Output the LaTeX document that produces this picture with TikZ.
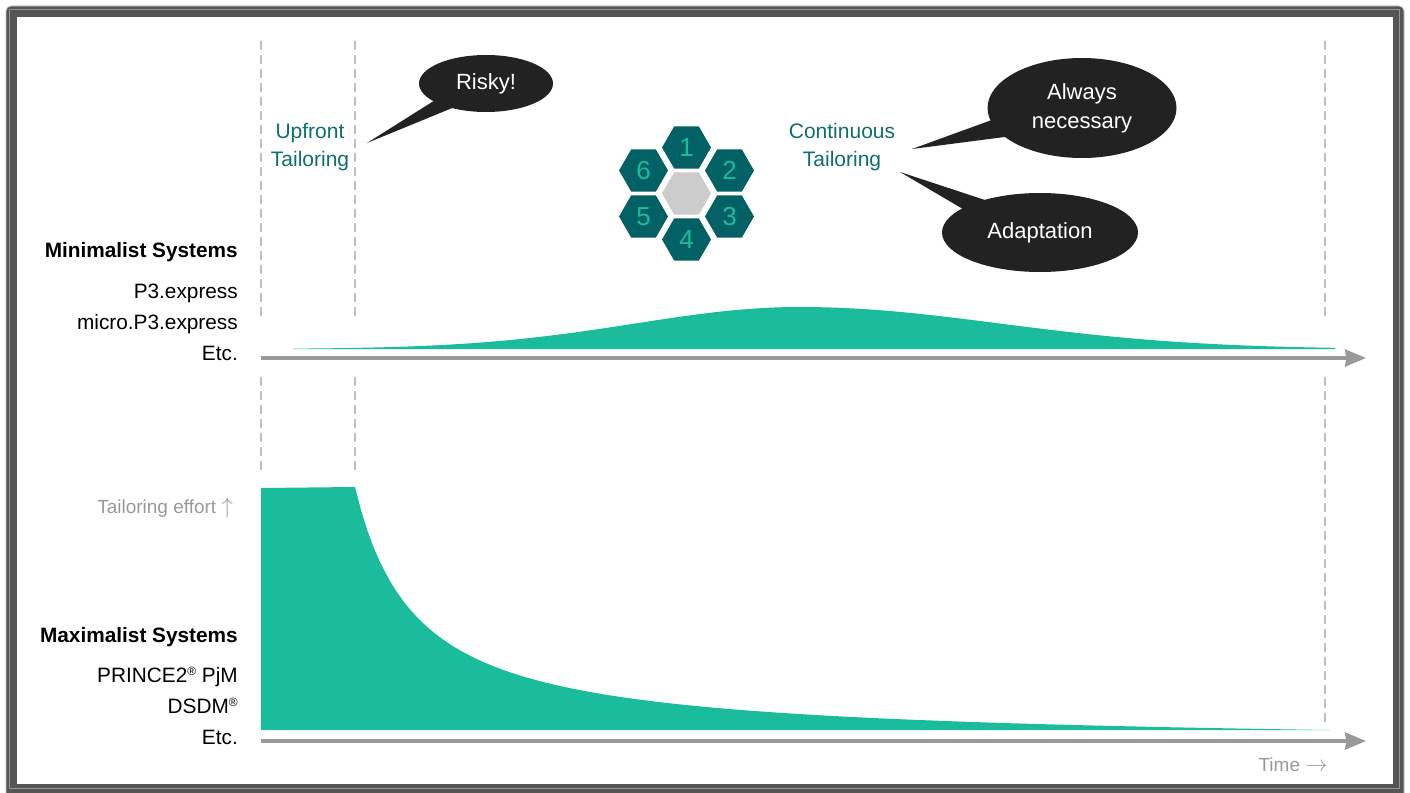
\documentclass[tikz,border=0pt]{standalone}
\usepackage{fontspec}
\usepackage{graphicx}
\setmainfont{Liberation Sans}
\usetikzlibrary{shapes.geometric,arrows.meta}
\definecolor{tgreen}{RGB}{27,188,155}
\definecolor{tealtxt}{RGB}{15,110,110}
\definecolor{hexc}{RGB}{3,97,101}
\definecolor{hexgray}{RGB}{204,204,204}
\definecolor{bubc}{RGB}{34,34,34}
\definecolor{dashc}{RGB}{190,190,190}
\definecolor{axisc}{RGB}{153,153,153}
\definecolor{framec}{RGB}{85,85,85}
\definecolor{framelt}{RGB}{150,150,150}
\newcommand{\regmark}{\raisebox{7pt}{\fontsize{12}{12}\selectfont ®}}
\begin{document}
\begin{tikzpicture}[x=1pt,y=-1pt,
  dashln/.style={draw=dashc, line width=1.1pt, dash pattern=on 9pt off 5pt},
  axisln/.style={draw=axisc, line width=3.5pt, -{Stealth[length=21pt,width=17pt,inset=1.5pt]}},
  hexd/.style={regular polygon, regular polygon sides=6, minimum size=49pt, inner sep=0pt, fill=hexc, text=tgreen, font=\fontsize{26}{26}\selectfont},
  hexmid/.style={hexd, fill=hexgray},
  bubble/.style={ellipse, fill=bubc, inner sep=0pt, text=white, align=center, font=\fontsize{22}{29}\selectfont},
  lbl/.style={inner sep=0pt, anchor=base east, text=black, font=\fontsize{20.8}{25}\selectfont},
  lblb/.style={inner sep=0pt, anchor=base east, text=black, font=\fontsize{20.8}{25}\selectfont\bfseries},
  phase/.style={inner sep=0pt, anchor=base, text=tealtxt, font=\fontsize{21}{28}\selectfont},
  note/.style={inner sep=0pt, anchor=base east, text=axisc, font=\fontsize{19}{24}\selectfont}
]
\useasboundingbox (0,0) rectangle (1410,792);
% frame
\fill[white] (0,0) rectangle (1410,792);
\fill[framec, rounded corners=5pt] (6,6) rectangle (1404,800);
\draw[gray!45, line width=0.8pt, rounded corners=5pt] (6,6) rectangle (1404,800);
\draw[framelt, line width=0.8pt] (9.5,9.5) rectangle (1399.5,788);
\fill[white] (17,17) rectangle (1393,784);

% dashed phase lines
\draw[dashln] (261,41) -- (261,320);
\draw[dashln] (355,41) -- (355,320);
\draw[dashln] (1325,41) -- (1325,320);
\draw[dashln] (261,377) -- (261,470);
\draw[dashln] (355,377) -- (355,470);
\draw[dashln] (1325,377) -- (1325,722);

% upper curve
\fill[tgreen] plot[domain=293:800,samples=90] (\x,{349-42*exp(-((\x-800)/165)*((\x-800)/165)/2)})
  -- plot[domain=800:1335,samples=90] (\x,{349-42*exp(-((\x-800)/200)*((\x-800)/200)/2)})
  -- (1335,349) -- (293,349) -- cycle;
% lower curve
\fill[tgreen] (261,730) -- (261,488) -- (355,487)
  -- plot[domain=355:1330,samples=160] (\x,{730-258.3*(61/(\x-294)-0.0589)})
  -- (1330,730) -- cycle;

% axes
\coordinate (a1s) at (261,358);
\coordinate (a1e) at (1366,358);
\coordinate (a2s) at (261,741);
\coordinate (a2e) at (1366,741);
\draw[axisln] (a1s) -- (a1e);
\draw[axisln] (a2s) -- (a2e);

% left labels
\node[lblb] (mins) at (238,257) {Minimalist Systems};
\node[lbl] (p3) at (238,298.5) {P3.express};
\node[lbl] (mp3) at (238,329.5) {micro.P3.express};
\node[lbl] (etc1) at (238,360.5) {Etc.};
\node[note] (effort) at (233,513.5) {Tailoring effort \scalebox{1.3}{$\uparrow$}};
\node[lblb] (maxs) at (238,642) {Maximalist Systems};
\node[lbl] (pr2) at (238,682) {PRINCE2\regmark{} PjM};
\node[lbl] (dsdm) at (238,713) {DSDM\regmark};
\node[lbl] (etc2) at (238,744) {Etc.};
\node[note] (time) at (1328,771) {Time \scalebox{1.3}{$\rightarrow$}};

% phase labels
\node[phase] (up1) at (310,138.5) {Upfront};
\node[phase] (up2) at (310,166) {Tailoring};
\node[phase] (co1) at (842,138.5) {Continuous};
\node[phase] (co2) at (842,166) {Tailoring};

% hexagons
\node[hexmid] (h0) at (686.5,193.5) {};
\node[hexd] (h1) at (686.5,147.5) {1};
\node[hexd] (h2) at (729.5,170.5) {2};
\node[hexd] (h3) at (729.5,216.5) {3};
\node[hexd] (h4) at (686.5,239.5) {4};
\node[hexd] (h5) at (643.5,216.5) {5};
\node[hexd] (h6) at (643.5,170.5) {6};

% speech bubbles
\coordinate (tipR) at (367,143);
\fill[bubc] (tipR) -- (440,97) -- (462,104) -- cycle;
\node[bubble, minimum width=134pt, minimum height=57pt] (risky) at (486,83.5) {Risky!};

\coordinate (tipA) at (912,149);
\fill[bubc] (tipA) -- (1000,117) -- (1020,135) -- cycle;
\node[bubble, minimum width=189pt, minimum height=100pt] (always) at (1082,108) {Always\\necessary};

\coordinate (tipD) at (900,172);
\fill[bubc] (tipD) -- (1000,205) -- (985,222) -- cycle;
\node[bubble, minimum width=196pt, minimum height=79pt] (adapt) at (1040,232.5) {Adaptation};
\end{tikzpicture}
\end{document}
